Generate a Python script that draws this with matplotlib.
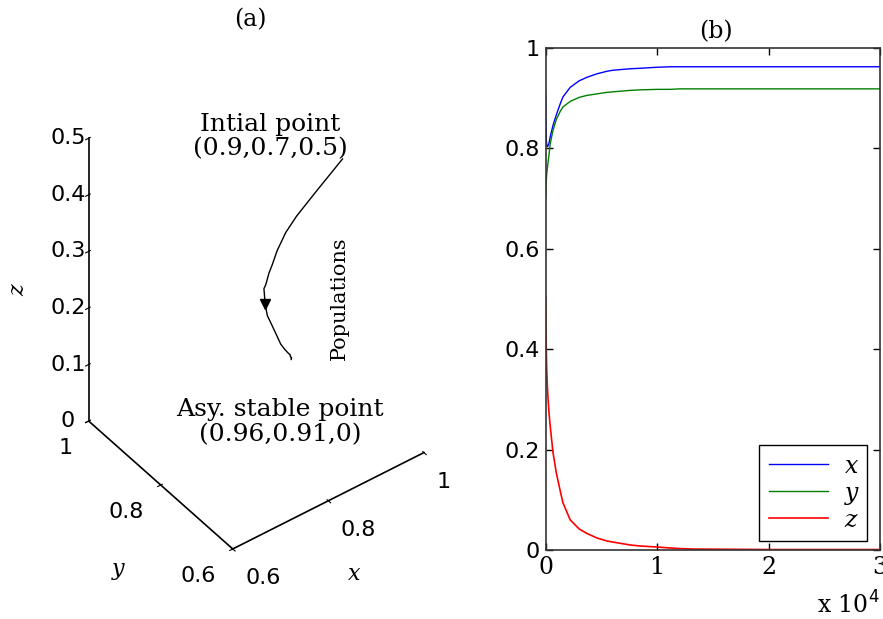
import numpy as np
import matplotlib
matplotlib.use('Agg')
import matplotlib.pyplot as plt
from matplotlib.ticker import FuncFormatter

# time points and the three populations
t = [0, 20, 40, 60, 100, 150, 200, 300, 400, 650, 950, 1300, 1550, 2200, 3000,
     3700, 4600, 5500, 6000, 7600, 8500, 10000, 11200, 12000, 13200, 20000, 30000]
x_pop = [0.905, 0.860, 0.830, 0.815, 0.806, 0.803, 0.804, 0.810, 0.822, 0.845,
         0.866, 0.888, 0.902, 0.921, 0.934, 0.941, 0.948, 0.953, 0.955, 0.958,
         0.959, 0.961, 0.962, 0.962, 0.962, 0.962, 0.962]
y_pop = [0.700, 0.715, 0.728, 0.738, 0.750, 0.760, 0.770, 0.787, 0.808, 0.835,
         0.857, 0.873, 0.882, 0.893, 0.901, 0.905, 0.908, 0.911, 0.912, 0.915,
         0.916, 0.917, 0.917, 0.918, 0.918, 0.918, 0.918]
z_pop = [0.503, 0.455, 0.418, 0.390, 0.355, 0.325, 0.305, 0.272, 0.248, 0.195,
         0.154, 0.118, 0.094, 0.060, 0.042, 0.033, 0.024, 0.018, 0.016, 0.010,
         0.008, 0.006, 0.004, 0.003, 0.002, 0.001, 0.001]
arrow_idx = 9

x_ticks = [0.6, 0.8, 1.0]
y_ticks = [0.6, 0.8, 1.0]
z_ticks = [0, 0.1, 0.2, 0.3, 0.4, 0.5]
t_ticks = [0, 10000, 20000, 30000]
p_ticks = [0, 0.2, 0.4, 0.6, 0.8, 1.0]

serif = 'DejaVu Serif'
sans = 'DejaVu Sans'
fmt = FuncFormatter(lambda v, p: '%g' % v)

fig = plt.figure(figsize=(8.83, 6.19), dpi=100)

# ---- (a) phase trajectory in 3D
ax = fig.add_axes([0.0027, 0.062, 0.56, 0.9], projection='3d')
ax.set_proj_type('ortho')
ax.view_init(elev=42, azim=-127)
ax.set_box_aspect((1, 1, 1.59), zoom=1.0)
ax.plot(x_pop, y_pop, z_pop, color='black', lw=1)
ax.plot([x_pop[arrow_idx]], [y_pop[arrow_idx]], [z_pop[arrow_idx]],
        marker='v', color='black', ms=7)
ax.set_xlim(0.6, 1)
ax.set_ylim(0.6, 1)
ax.set_zlim(0, 0.5)
ax.set_xticks(x_ticks)
ax.set_yticks(y_ticks)
ax.set_zticks(z_ticks)
for a in (ax.xaxis, ax.yaxis, ax.zaxis):
    a.set_major_formatter(fmt)
    a.set_pane_color((1, 1, 1, 0))
    a.pane.set_edgecolor((1, 1, 1, 0))
    a.line.set_color('black')
    a.line.set_linewidth(1.2)
    for lab in a.get_ticklabels():
        lab.set_fontfamily(sans)
        lab.set_fontsize(16)
        lab.set_verticalalignment('baseline')
for lab in ax.xaxis.get_ticklabels():
    lab.set_horizontalalignment('left')
for lab in ax.yaxis.get_ticklabels():
    lab.set_horizontalalignment('right')
for lab in ax.zaxis.get_ticklabels():
    lab.set_verticalalignment('center_baseline')
ax.tick_params(axis='x', pad=8)
ax.tick_params(axis='y', pad=8)
ax.grid(False)
ax.set_xlabel('x', fontfamily=serif, fontstyle='italic', fontsize=16, labelpad=12)
ax.set_ylabel('y', fontfamily=serif, fontstyle='italic', fontsize=16, labelpad=20)
fig.text(18 / 883, 1 - 290 / 619, 'z', ha='center', va='center', rotation=90,
         fontfamily=serif, fontstyle='italic', fontsize=16)

fig.text(0.283, 0.968, '(a)', ha='center', va='center', fontfamily=serif, fontsize=17)
fig.text(0.306, 0.779, 'Intial point\n(0.9,0.7,0.5)', ha='center', va='center',
         fontfamily=serif, fontsize=18, linespacing=1.08)
fig.text(0.384, 0.518, 'Populations', ha='center', va='center', rotation=90,
         fontfamily=serif, fontsize=15)
fig.text(0.317, 0.318, 'Asy. stable point\n(0.96,0.91,0)', ha='center', va='center',
         fontfamily=serif, fontsize=18, linespacing=1.08)

# ---- (b) time series
bx = fig.add_axes([0.618, 0.1114, 0.3786, 0.8116])
bx.plot(t, x_pop, color='blue', lw=1, label='x')
bx.plot(t, y_pop, color='green', lw=1, label='y')
bx.plot(t, z_pop, color='red', lw=1.2, label='z')
bx.set_xlim(0, 30000)
bx.set_ylim(0, 1)
bx.set_xticks(t_ticks)
bx.set_yticks(p_ticks)
bx.xaxis.set_major_formatter(FuncFormatter(lambda v, p: '%g' % (v / 1e4)))
bx.yaxis.set_major_formatter(fmt)
bx.tick_params(direction='in', top=True, right=True, length=5, width=1, pad=4)
for lab in bx.get_yticklabels():
    lab.set_fontfamily(sans)
    lab.set_fontsize(16)
for lab in bx.get_xticklabels():
    lab.set_fontfamily(serif)
    lab.set_fontsize(17)
for s in bx.spines.values():
    s.set_color('#333333')
    s.set_linewidth(1.2)
bx.set_title('(b)', fontfamily=serif, fontsize=17, pad=7, x=0.51)
bx.text(1.0, -0.11, 'x 10$^4$', transform=bx.transAxes, ha='right', va='center',
        fontfamily=serif, fontsize=17)
leg = bx.legend(loc='lower right', bbox_to_anchor=(0.962, 0.018), fancybox=False,
                edgecolor='black', framealpha=1, borderaxespad=0,
                prop={'family': serif, 'size': 17, 'style': 'italic'},
                handlelength=2.5, labelspacing=0.17, borderpad=0.4, handletextpad=0.7)
leg.get_frame().set_linewidth(1)

fig.savefig('out.png', dpi=100)
